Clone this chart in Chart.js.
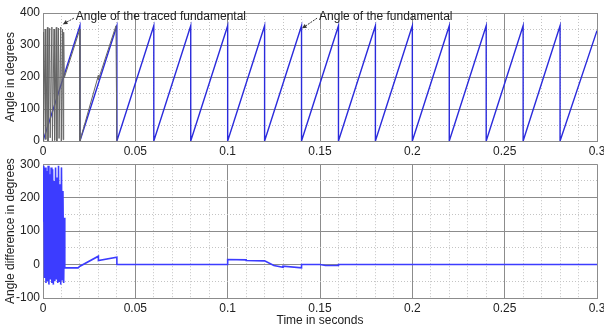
<!DOCTYPE html>
<html>
<head>
<meta charset="utf-8">
<script src="https://cdn.jsdelivr.net/npm/chart.js@4.4.0/dist/chart.umd.min.js"></script>
<style>
html, body { margin: 0; padding: 0; background: #fff; overflow: hidden; width: 604px; height: 331px; }
#topChart { position: absolute; left: 0; top: 0; }
#botChart { position: absolute; left: 0; top: 154px; }
</style>
</head>
<body>
<canvas id="topChart" width="615" height="160"></canvas>
<canvas id="botChart" width="615" height="177"></canvas>
<script>
// angle of the fundamental (sawtooth corners, seconds / degrees)
var fundT = [0, 0.02, 0.02, 0.04, 0.04, 0.06, 0.06, 0.08, 0.08, 0.1, 0.1, 0.12, 0.12, 0.14, 0.14, 0.16,
             0.16, 0.18, 0.18, 0.2, 0.2, 0.22, 0.22, 0.24, 0.24, 0.26, 0.26, 0.28, 0.28, 0.3];
var fundA = [0, 360, 0, 360, 0, 360, 0, 360, 0, 360, 0, 360, 0, 360, 0, 360,
             0, 360, 0, 360, 0, 360, 0, 360, 0, 360, 0, 360, 0, 345];

// angle of the traced fundamental (only where it differs from the fundamental)
var tracedT = [0, 0.0003, 0.0012, 0.0015, 0.0024, 0.0027, 0.0036, 0.0039, 0.0048, 0.0051,
               0.0060, 0.0063, 0.0072, 0.0075, 0.0084, 0.0087, 0.0096, 0.0099, 0.0106, 0.0109,
               0.0112, 0.0115, 0.02, 0.02, 0.03, 0.03, 0.0395, 0.04];
var tracedA = [340, 0, 350, 5, 355, 0, 352, 10, 356, 0,
               350, 2, 355, 0, 353, 8, 356, 0, 350, 4,
               340, 197, 350, 0, 205, 192, 360, 0];

// angle difference
var diffT = [0, 0.0004, 0.0008, 0.0012, 0.0016, 0.0020, 0.0024, 0.0028, 0.0032, 0.0036, 0.0040, 0.0044,
             0.0048, 0.0052, 0.0056, 0.0060, 0.0064, 0.0068, 0.0072, 0.0076, 0.0080, 0.0084, 0.0088, 0.0092,
             0.0096, 0.0100, 0.0104, 0.0108, 0.0112, 0.0116, 0.0118,
             0.019, 0.02, 0.03, 0.03, 0.04, 0.04, 0.1, 0.1, 0.11, 0.11, 0.12, 0.125, 0.13, 0.13, 0.14, 0.14,
             0.15, 0.153, 0.16, 0.16, 0.3];
var diffA = [130, 295, -40, 290, -55, 280, -50, 295, -60, 270, -45, 290,
             -55, 285, -60, 250, -50, 290, -45, 260, -55, 295, -50, 240,
             -60, 290, -45, 220, -55, 140, -10,
             -10, -5, 25, 12, 22, 0, 0, 15, 14, 12, 11, -3, -8, -5, -10, 0,
             0, -3, -3, 0, 0];

var xTicks = [0, 0.05, 0.1, 0.15, 0.2, 0.25, 0.3];
var topYTicks = [0, 100, 200, 300, 400];
var botYTicks = [-100, 0, 100, 200, 300];

var notes = [
  { text: "Angle of the traced fundamental", tipT: 0.0108, tipA: 365, textT: 0.0178, textA: 387 },
  { text: "Angle of the fundamental", tipT: 0.1403, tipA: 352, textT: 0.1495, textA: 387 }
];

function pts(ts, vs) {
  return ts.map(function (t, i) { return { x: t, y: vs[i] }; });
}

var majorColor = "#8c8c8c";
var minorColor = "#c4c4c4";
var fontName = "'Liberation Sans', Arial, sans-serif";

function isMajorX(v) {
  return xTicks.some(function (m) { return Math.abs(m - v) < 1e-6; });
}

function xScale(showTitle) {
  return {
    type: "linear", min: 0, max: 0.3,
    afterFit: function (s) { s.height = showTitle ? 33 : 17; },
    ticks: {
      stepSize: 0.01, maxTicksLimit: 100, autoSkip: false, maxRotation: 0, padding: 3,
      color: "#222", font: { family: fontName, size: 12 },
      callback: function (v) { return isMajorX(v) ? String(Math.round(v * 100) / 100) : ""; }
    },
    grid: {
      drawTicks: false,
      color: function (c) { return c.tick && isMajorX(c.tick.value) ? majorColor : minorColor; }
    },
    border: {
      color: majorColor,
      dash: function (c) { return c.tick && !isMajorX(c.tick.value) ? [1, 2] : []; }
    },
    title: {
      display: showTitle, text: "Time in seconds", color: "#222",
      font: { family: fontName, size: 12 }, padding: { top: 0, bottom: 3 }
    }
  };
}

function yScale(mn, mx, majors, titleText) {
  function isMajor(v) { return majors.indexOf(v) >= 0; }
  return {
    type: "linear", min: mn, max: mx,
    afterFit: function (s) { s.width = 43; },
    ticks: {
      stepSize: 50, autoSkip: false, padding: 3, color: "#222",
      font: { family: fontName, size: 12 },
      callback: function (v) { return isMajor(v) ? String(v) : ""; }
    },
    grid: {
      drawTicks: false,
      color: function (c) { return c.tick && isMajor(c.tick.value) ? majorColor : minorColor; }
    },
    border: {
      color: majorColor,
      dash: function (c) { return c.tick && !isMajor(c.tick.value) ? [1, 2] : []; }
    },
    title: {
      display: true, text: titleText, color: "#222",
      font: { family: fontName, size: 12 }, padding: { top: 3, bottom: 0 }
    }
  };
}

var notePlugin = {
  id: "notes",
  afterDatasetsDraw: function (chart) {
    var ctx = chart.ctx, xs = chart.scales.x, ys = chart.scales.y;
    ctx.save();
    ctx.font = "12px " + fontName;
    ctx.strokeStyle = "#333";
    ctx.lineWidth = 1;
    ctx.textBaseline = "middle";
    notes.forEach(function (n) {
      var tx = xs.getPixelForValue(n.textT), ty = ys.getPixelForValue(n.textA);
      var px = xs.getPixelForValue(n.tipT), py = ys.getPixelForValue(n.tipA);
      ctx.fillStyle = "#222";
      ctx.fillText(n.text, tx, ty);
      var sx = tx - 2, sy = ty + 1;
      ctx.setLineDash([2, 1]);
      ctx.beginPath(); ctx.moveTo(sx, sy); ctx.lineTo(px, py); ctx.stroke();
      ctx.setLineDash([]);
      var ang = Math.atan2(py - sy, px - sx);
      ctx.beginPath();
      ctx.moveTo(px, py);
      ctx.lineTo(px - 5 * Math.cos(ang - 0.45), py - 5 * Math.sin(ang - 0.45));
      ctx.lineTo(px - 5 * Math.cos(ang + 0.45), py - 5 * Math.sin(ang + 0.45));
      ctx.closePath();
      ctx.fillStyle = "#333";
      ctx.fill();
    });
    ctx.restore();
  }
};

new Chart(document.getElementById("topChart"), {
  type: "line",
  data: {
    datasets: [
      { data: pts(tracedT, tracedA), borderColor: "#666", borderWidth: 1, pointRadius: 0, tension: 0 },
      { data: pts(fundT, fundA), borderColor: "#2b2bdc", borderWidth: 1.4, pointRadius: 0, tension: 0 }
    ]
  },
  options: {
    responsive: false, animation: false,
    layout: { padding: { left: 0, right: 18, top: 13, bottom: 2 } },
    plugins: { legend: { display: false }, tooltip: { enabled: false } },
    scales: { x: xScale(false), y: yScale(0, 400, topYTicks, "Angle in degrees") }
  },
  plugins: [notePlugin]
});

new Chart(document.getElementById("botChart"), {
  type: "line",
  data: {
    datasets: [
      { data: pts(diffT, diffA), borderColor: "#3c3cff", borderWidth: 1.6, pointRadius: 0, tension: 0 }
    ]
  },
  options: {
    responsive: false, animation: false,
    layout: { padding: { left: 0, right: 18, top: 9, bottom: 0 } },
    plugins: { legend: { display: false }, tooltip: { enabled: false } },
    scales: { x: xScale(true), y: yScale(-100, 300, botYTicks, "Angle difference in degrees") }
  }
});
</script>
</body>
</html>
